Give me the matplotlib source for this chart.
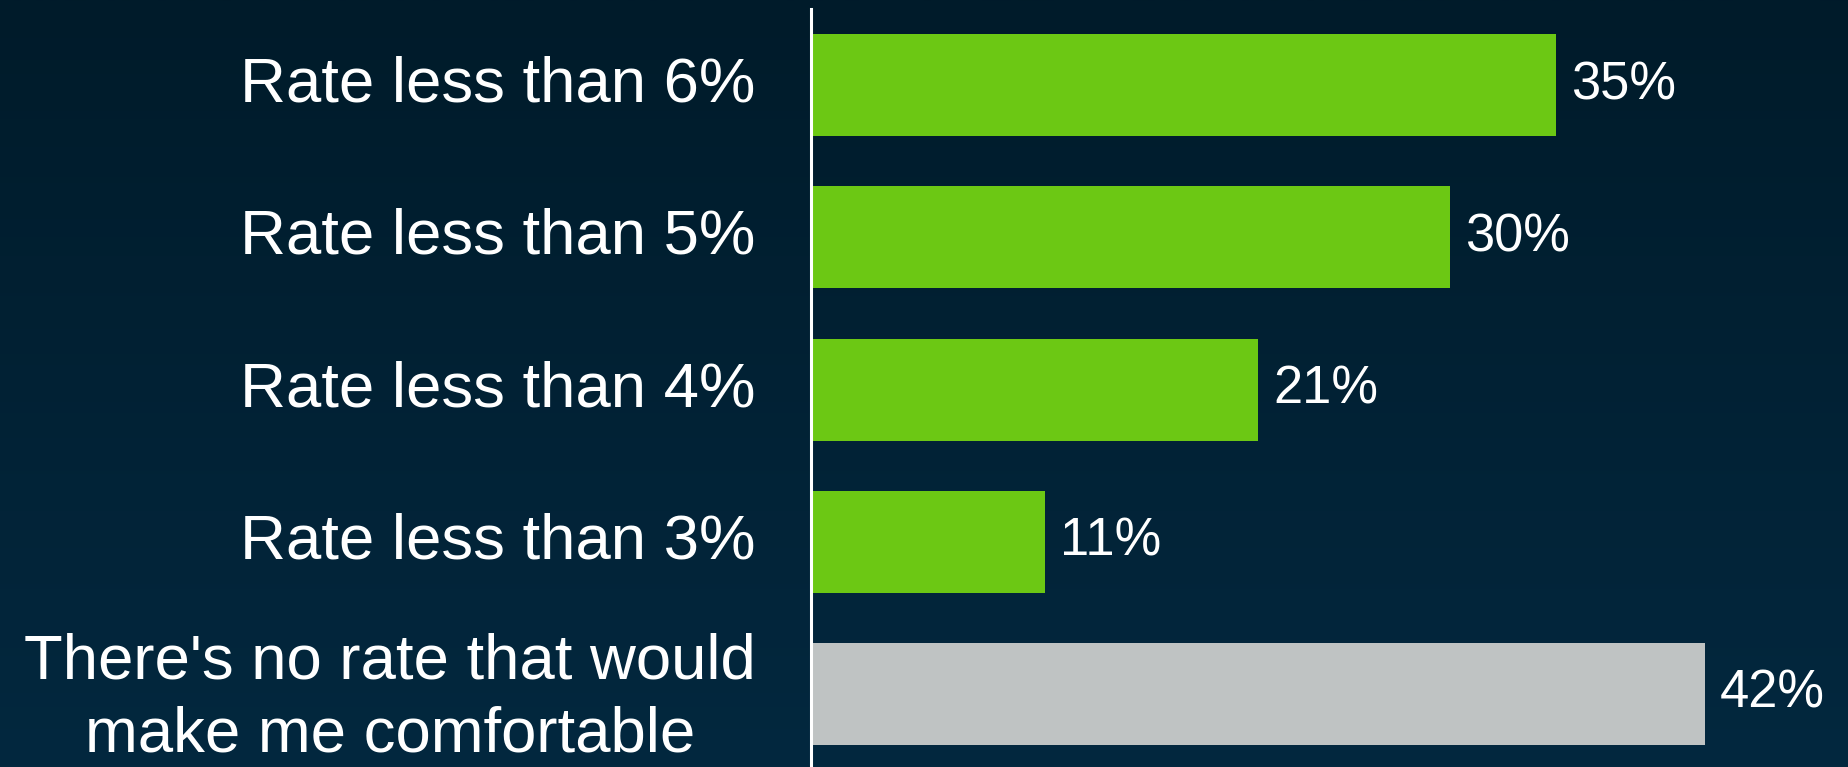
import numpy as np
import matplotlib.pyplot as plt
from matplotlib.colors import LinearSegmentedColormap

categories = ["Rate less than 6%", "Rate less than 5%", "Rate less than 4%",
              "Rate less than 3%", "There's no rate that would\nmake me comfortable"]
values = [35, 30, 21, 11, 42]
bar_colors = ["#6cc814", "#6cc814", "#6cc814", "#6cc814", "#bfc3c3"]

plt.rcParams['font.family'] = ['Liberation Sans', 'DejaVu Sans']

fig = plt.figure(figsize=(18.49, 7.67), dpi=100)

# Background gradient
bg = fig.add_axes([0, 0, 1, 1], zorder=0)
grad = np.linspace(0, 1, 256).reshape(-1, 1)
cmap = LinearSegmentedColormap.from_list("bg", ["#001b2a", "#03283f"])
bg.imshow(grad, aspect="auto", cmap=cmap, extent=[0, 1, 0, 1], origin="upper")
bg.axis("off")

ax = fig.add_axes([811 / 1849, 0, 1 - 811 / 1849, 1 - 9 / 767], zorder=1)
ax.patch.set_alpha(0)

y = np.arange(len(categories))
ax.barh(y, values, height=0.67, color=bar_colors, left=0)
ax.set_ylim(len(categories) - 0.52, -0.5)
ax.set_xlim(0, 48.75)

for yi, v in zip(y, values):
    ax.text(v + 0.7, yi, f"{v}%", va="center", ha="left", color="white", fontsize=37.8)

for yi, c in zip(y, categories):
    # two-line label sits a touch lower in the original
    dy = 0.03 if "\n" in c else 0
    ax.text(-2.6, yi + dy, c, va="center", ha="right", multialignment="center",
            color="white", fontsize=45.7, linespacing=1.32,
            transform=ax.transData, clip_on=False)

ax.set_xticks([])
ax.set_yticks([])
for s in ["top", "right", "bottom"]:
    ax.spines[s].set_visible(False)
ax.spines["left"].set_color("white")
ax.spines["left"].set_linewidth(2.2)

fig.savefig("out.png", dpi=100)
